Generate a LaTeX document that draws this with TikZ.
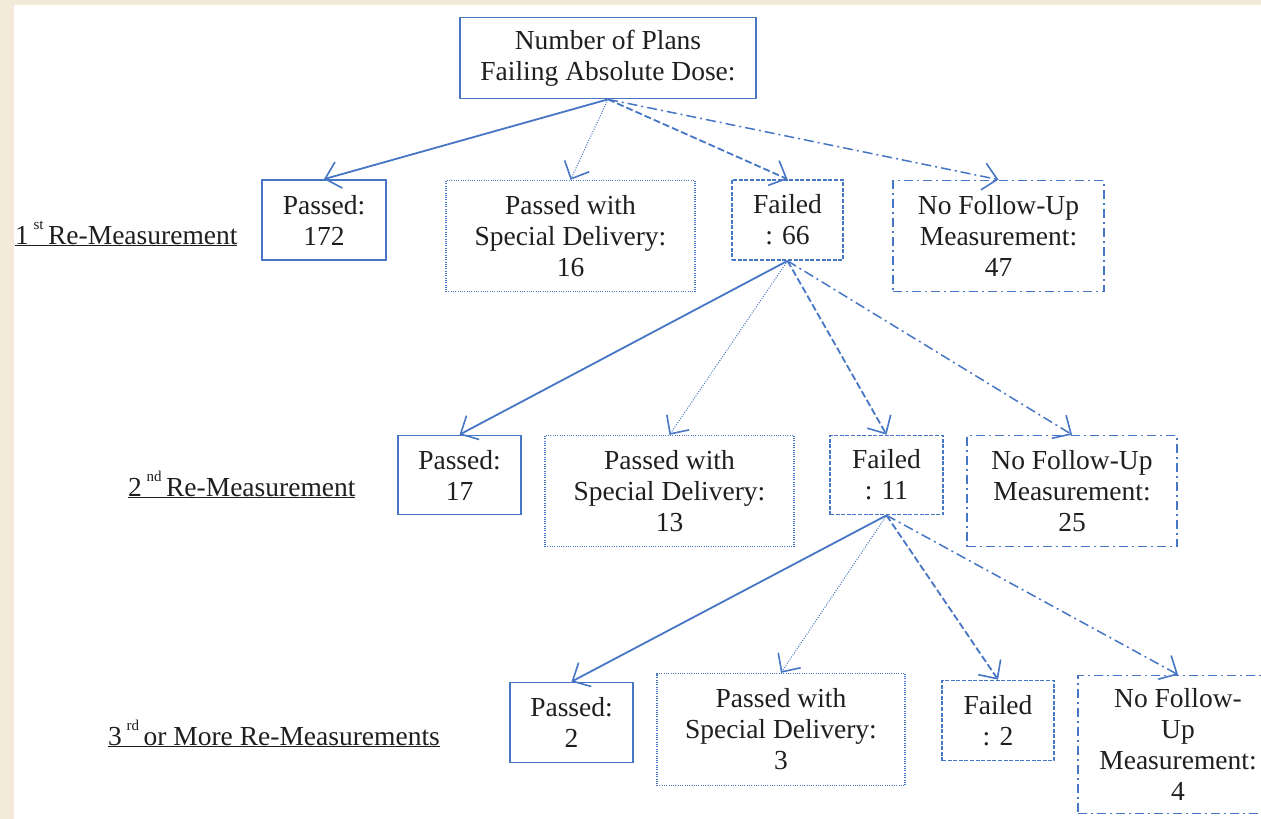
\documentclass[tikz,border=0pt]{standalone}
\usepackage{fontspec}
\setmainfont{Liberation Serif}
\usetikzlibrary{arrows.meta}
\definecolor{bl}{RGB}{70,118,196}
\definecolor{beige}{RGB}{243,234,217}
\newcommand{\supx}[1]{\,\raisebox{15pt}{\fontsize{15}{15}\selectfont #1}\,}
\begin{document}
\begin{tikzpicture}[x=1pt,y=-1pt,
  box/.style={draw=bl, line width=1.7pt, align=center, inner sep=0pt,
    font=\fontsize{27.5}{31}\selectfont, text=black!88},
  solidb/.style={box},
  dotb/.style={box, line width=1.3pt, dash pattern=on 1pt off 1.3pt},
  dashb/.style={box, dash pattern=on 4pt off 1.6pt},
  dashdotb/.style={box, dash pattern=on 9pt off 4pt on 2pt off 4pt},
  arr/.style={draw=bl, line width=1.8pt, -{Straight Barb[length=14pt,width=27pt,line width=1.6pt]}},
  arrsolid/.style={arr},
  arrdot/.style={arr, line width=1pt, dash pattern=on 1pt off 1.5pt},
  arrdash/.style={arr, dash pattern=on 7pt off 3pt},
  arrdashdot/.style={arr, line width=1.5pt, dash pattern=on 10pt off 4pt on 2pt off 4pt},
  lab/.style={anchor=base west, inner sep=0pt, font=\fontsize{27.5}{31}\selectfont, text=black!88}
]
\useasboundingbox (0,0) rectangle (1261,819);
\fill[beige] (0,0) rectangle (1261,819);
\fill[white] (14,5) rectangle (1261,819);

% top
\node[solidb, minimum width=296pt, minimum height=81pt] (top) at (608,58) {Number of Plans\\Failing Absolute Dose:};

% row 1
\node[solidb, minimum width=124pt, minimum height=80pt] (p1) at (324,220) {Passed:\\172};
\node[dotb, minimum width=249pt, minimum height=111pt] (s1) at (570.5,236) {Passed with\\Special Delivery:\\16};
\node[dashb, minimum width=111pt, minimum height=80pt] (f1) at (787.5,220) {Failed\\: 66};
\node[dashdotb, minimum width=211pt, minimum height=111pt] (n1) at (998.5,236) {No Follow-Up\\Measurement:\\47};

% row 2
\node[solidb, minimum width=123pt, minimum height=79pt] (p2) at (459.5,475) {Passed:\\17};
\node[dotb, minimum width=249pt, minimum height=111pt] (s2) at (669.5,491) {Passed with\\Special Delivery:\\13};
\node[dashb, minimum width=113pt, minimum height=79pt] (f2) at (886.5,475) {Failed\\: 11};
\node[dashdotb, minimum width=210pt, minimum height=111pt] (n2) at (1072,491) {No Follow-Up\\Measurement:\\25};

% row 3
\node[solidb, minimum width=123pt, minimum height=80pt] (p3) at (571.5,722.5) {Passed:\\2};
\node[dotb, minimum width=248pt, minimum height=112pt] (s3) at (781,729.5) {Passed with\\Special Delivery:\\3};
\node[dashb, minimum width=112pt, minimum height=80pt] (f3) at (998,720.5) {Failed\\: 2};
\node[dashdotb, minimum width=200pt, minimum height=138pt] (n3) at (1178,744.5) {No Follow-\\Up\\Measurement:\\4};

% labels
\node[lab] (l1) at (15,244) {\underline{1\supx{st}Re-Measurement}};
\node[lab] (l2) at (128,496) {\underline{2\supx{nd}Re-Measurement}};
\node[lab] (l3) at (108,745) {\underline{3\supx{rd}or More Re-Measurements}};

% arrows
\draw[arrsolid] (top.south) -- (p1.north);
\draw[arrdot] (top.south) -- (s1.north);
\draw[arrdash] (top.south) -- (f1.north);
\draw[arrdashdot] (top.south) -- (n1.north);

\draw[arrsolid] (f1.south) -- (p2.north);
\draw[arrdot] (f1.south) -- (s2.north);
\draw[arrdash] (f1.south) -- (f2.north);
\draw[arrdashdot] (f1.south) -- (n2.north);

\draw[arrsolid] (f2.south) -- (p3.north);
\draw[arrdot] (f2.south) -- (s3.north);
\draw[arrdash] (f2.south) -- (f3.north);
\draw[arrdashdot] (f2.south) -- (n3.north);
\end{tikzpicture}
\end{document}
